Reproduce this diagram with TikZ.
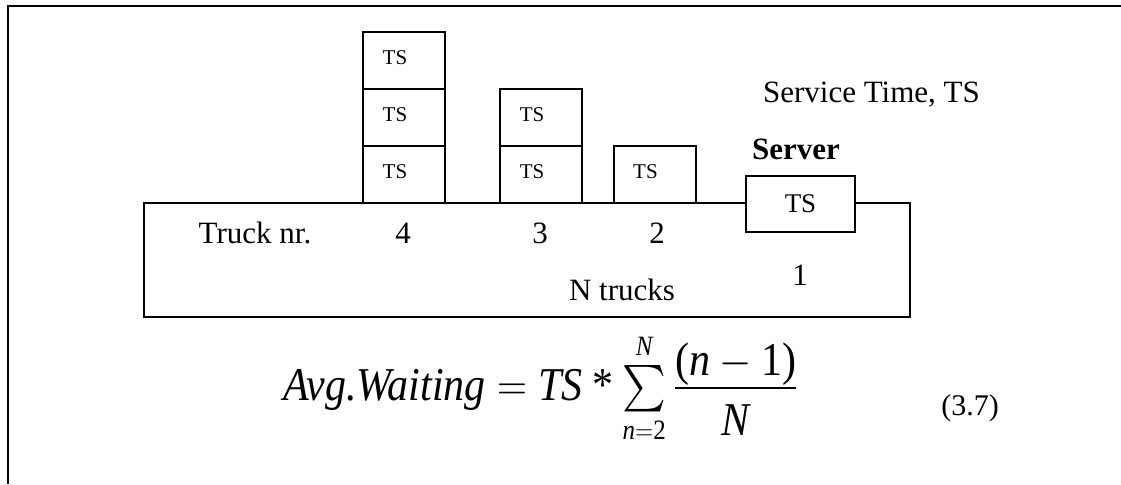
\documentclass[tikz,border=0pt]{standalone}
\usepackage{amsmath}
\usepackage{graphicx}
\usepackage{fontspec}
\setmainfont{Liberation Serif}
\usetikzlibrary{positioning}
\DeclareMathSizes{21}{21}{12.5}{10}
\tikzset{
	x=0.5pt, y=-0.5pt,
	every node/.style={font=\fontsize{15.5}{18}\selectfont},
	frame/.style={line width=1pt},
	tslabel/.style={font=\fontsize{10.5}{12}\selectfont, xshift=-4.5pt, yshift=1.5pt},
	tsbox/.style={draw, line width=1pt, minimum width=41pt, minimum height=28.5pt,
		inner sep=0pt, outer sep=0pt, node distance=0pt, label={[tslabel]center:TS}},
	serverbox/.style={draw, fill=white, line width=1pt, minimum width=54.5pt,
		minimum height=28pt, inner sep=0pt, font=\fontsize{13.5}{16}\selectfont},
	lbl/.style={anchor=base}}

\begin{document}
\begin{tikzpicture}
		\useasboundingbox (0,0) rectangle (1121,484);
		\draw[frame] (1121,6) -- (7.5,6) -- (7.5,484);
		
		\node[draw, frame, minimum width=383pt, minimum height=57pt, inner sep=0pt] (base) at (527,260) {};
		
		% queue of trucks
		\node[tsbox] (t4a) at (404,174.5) {};
		\node[tsbox, above=of t4a] (t4b) {};
		\node[tsbox, above=of t4b] (t4c) {};
		\node[tsbox] (t3a) at (541,174.5) {};
		\node[tsbox, above=of t3a] (t3b) {};
		\node[tsbox] (t2a) at (654.5,174.5) {};
		
		\node[serverbox] (server) at (800.5,204) {TS};
		\node[lbl, font=\fontsize{15.5}{18}\selectfont\bfseries] (servername) at (796,159) {Server};
		\node[anchor=base west] (service) at (756,102) {Service Time, TS};
		
		\node[lbl] (trucknr) at (255,243) {Truck nr.};
		\node[lbl] (n4) at (403,243) {4};
		\node[lbl] (n3) at (540,243) {3};
		\node[lbl] (n2) at (657,243) {2};
		\node[lbl] (n1) at (800,285) {1};
		\node[lbl] (ntrucks) at (622,300) {N trucks};
		
		% waiting time formula
		\node[anchor=base west, font=\fontsize{21}{25}\selectfont] (avg) at (276,400)
			{\scalebox{1}[1.12]{$\textit{Avg.Waiting} = \textit{TS} \mathbin{\text{*}} \sum\limits_{\textit{n}=\textup{2}}^{\textit{N}} \frac{\textstyle\textup{(}\textit{n}-\textup{1)}}{\textstyle\rule{0pt}{20pt}\textit{N}}$}};
		\node[lbl, font=\fontsize{15}{18}\selectfont] (eqno) at (970,415) {(3.7)};
	\end{tikzpicture}
\end{document}
